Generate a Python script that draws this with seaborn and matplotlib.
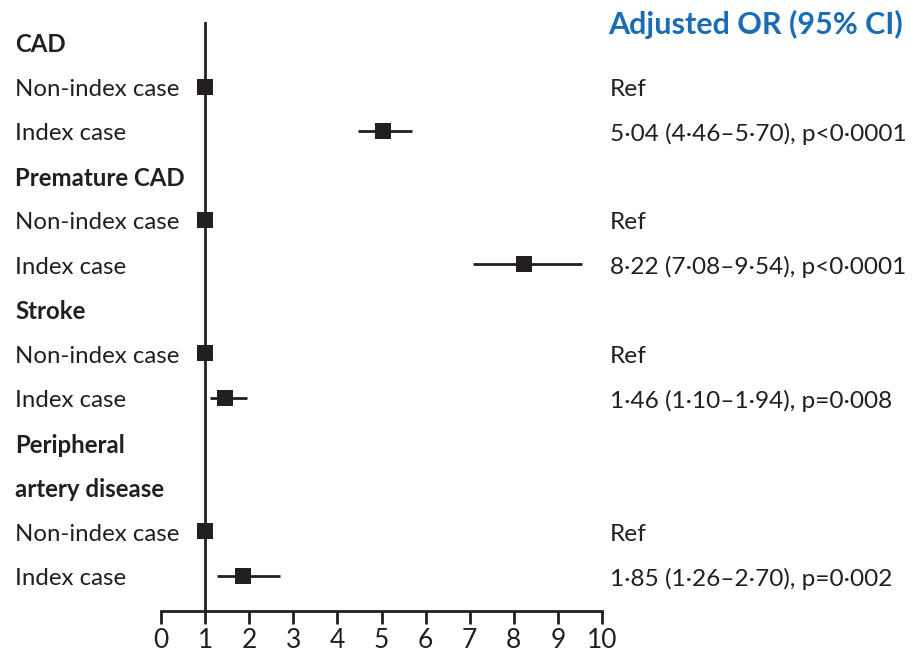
import numpy as np
import pandas as pd
import matplotlib.pyplot as plt
import matplotlib.transforms as mtransforms
import seaborn as sns

# Row labels (top to bottom) and whether they are bold headers
row_labels = ['CAD', 'Non-index case', 'Index case',
              'Premature CAD', 'Non-index case', 'Index case',
              'Stroke', 'Non-index case', 'Index case',
              'Peripheral', 'artery disease', 'Non-index case', 'Index case']
row_bold = [True, False, False, True, False, False, True, False, False,
            True, True, False, False]

# Estimates, one per data row (row index into row_labels)
est_rows = [1, 2, 4, 5, 7, 8, 11, 12]
or_est = [1.0, 5.04, 1.0, 8.22, 1.0, 1.46, 1.0, 1.85]
ci_low = [np.nan, 4.46, np.nan, 7.08, np.nan, 1.10, np.nan, 1.26]
ci_high = [np.nan, 5.70, np.nan, 9.54, np.nan, 1.94, np.nan, 2.70]
or_text = ['Ref', '5\u00b704 (4\u00b746\u20135\u00b770), p<0\u00b70001',
           'Ref', '8\u00b722 (7\u00b708\u20139\u00b754), p<0\u00b70001',
           'Ref', '1\u00b746 (1\u00b710\u20131\u00b794), p=0\u00b7008',
           'Ref', '1\u00b785 (1\u00b726\u20132\u00b770), p=0\u00b7002']
x_ticks = list(range(0, 11))

TXT = '#231f20'
BLUE = '#1a6db5'

sns.set_theme(style='white')
plt.rcParams['font.family'] = ['Lato', 'DejaVu Sans']

df = pd.DataFrame({'row': est_rows, 'est': or_est, 'lo': ci_low, 'hi': ci_high})

fig = plt.figure(figsize=(9.15, 6.56), dpi=100)
W, H = 915, 656
ax = fig.add_axes([161 / W, 1 - 611 / H, (602 - 161) / W, (611 - 22) / H])

# CI lines
for _, r in df.dropna().iterrows():
    ax.plot([r['lo'], r['hi']], [r['row'], r['row']], color=TXT, lw=2, solid_capstyle='butt')

sns.scatterplot(data=df, x='est', y='row', marker='s', s=125, color=TXT,
                edgecolor=TXT, linewidth=0, ax=ax, zorder=3)

ax.axvline(1, color=TXT, lw=2, zorder=2)

ax.set_xlim(0, 10)
ax.set_ylim(12.79, -0.45)
ax.set_xticks(x_ticks)
ax.set_xticklabels([str(t) for t in x_ticks])
ax.set_yticks([])
ax.set_xlabel('')
ax.set_ylabel('')
for s in ['top', 'right', 'left']:
    ax.spines[s].set_visible(False)
ax.spines['bottom'].set_color(TXT)
ax.spines['bottom'].set_linewidth(2)
ax.tick_params(axis='x', direction='out', length=9, width=2, color=TXT,
               labelsize=19, labelcolor=TXT, pad=3, bottom=True)
ax.patch.set_alpha(0)

# Left labels
trans_left = mtransforms.blended_transform_factory(fig.transFigure, ax.transData)
for i, (lab, b) in enumerate(zip(row_labels, row_bold)):
    fig.text(15 / W, i + 0.06, lab, transform=trans_left, ha='left', va='center',
             fontsize=17.3, color=TXT, fontweight='bold' if b else 'normal')

# Right text column
for r, t in zip(est_rows, or_text):
    fig.text(610 / W, r + 0.06, t, transform=trans_left, ha='left', va='center',
             fontsize=17.6, color=TXT)

fig.text(608 / W, 1 - 24 / H, 'Adjusted OR (95% CI)', ha='left', va='center',
         fontsize=22, color=BLUE, fontweight='bold')

fig.savefig('out.png', dpi=100, facecolor='white')
